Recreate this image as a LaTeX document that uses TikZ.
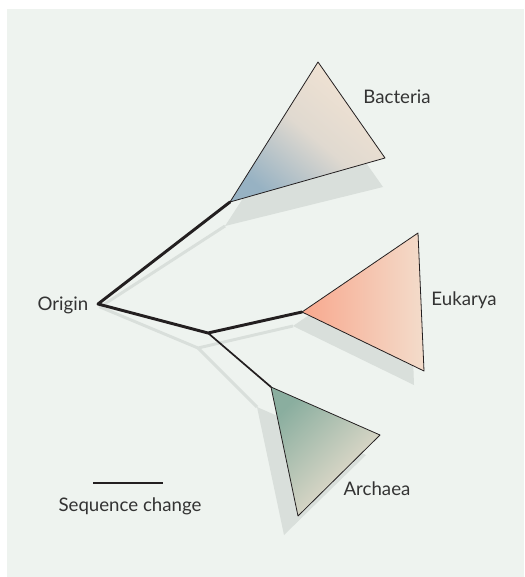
\documentclass[tikz,border=0pt]{standalone}
\usepackage{fontspec}
\setmainfont{Lato}
\definecolor{panelbg}{HTML}{EEF3EF}
\definecolor{shadowgrey}{HTML}{D9DFDB}
\definecolor{treeline}{HTML}{231F20}
\definecolor{textgrey}{HTML}{333333}
\definecolor{bacblue}{HTML}{97B2C3}
\definecolor{beige}{HTML}{F2E3D3}
\definecolor{euksalmon}{HTML}{F8A88E}
\definecolor{eukpeach}{HTML}{F3DCCB}
\definecolor{arcgreen}{HTML}{8AAE9F}

\begin{document}
\begin{tikzpicture}[x=0.75pt,y=-0.75pt,
every node/.style={font=\fontsize{14}{16}\selectfont,text=textgrey},
branch/.style={draw=treeline,line width=2.2pt,line join=round,line cap=round},
shadowline/.style={draw=shadowgrey,line width=2.2pt,line join=round},
clade/.style={draw=treeline,line width=0.6pt,line join=round},
shadowclade/.style={fill=shadowgrey}]

\useasboundingbox (0,0) rectangle (524,577);
\fill[panelbg] (7,9) rectangle (524,577);

% tree points
\coordinate (origin) at (98,304);
\coordinate (split) at (208,333);
\coordinate (bac) at (230,202);
\coordinate (euk) at (302,312);
\coordinate (arc) at (271,387);

% their shadows
\coordinate (origin') at (100,307);
\coordinate (split') at (198,348);
\coordinate (bac') at (225,226);
\coordinate (euk') at (293,326);
\coordinate (arc') at (257,407);

\draw[shadowline] (bac') -- (origin') -- (split') -- (euk');
\draw[shadowline] (split') -- (arc');
\fill[shadowclade] (bac') -- (314,89) -- (383,187) -- cycle;
\fill[shadowclade] (euk') -- (409,247) -- (414,385) -- cycle;
\fill[shadowclade] (arc') -- (366,455) -- (284,535) -- cycle;

% branches
\draw[branch] (bac) -- (origin) -- (split) -- (euk);
\draw[branch,line width=1.3pt] (split) -- (arc);

% clades
\draw[clade,top color=beige,bottom color=bacblue,middle color=beige!80!bacblue,shading angle=-40]
  (bac) -- (318,62) -- (385,158) -- cycle;
\draw[clade,left color=euksalmon,right color=eukpeach]
  (euk) -- (418,233) -- (424,371) -- cycle;
\draw[clade,top color=arcgreen,bottom color=beige,shading angle=45]
  (arc) -- (380,435) -- (298,516) -- cycle;

\node (bacteria) at (397,97) {Bacteria};
\node (eukarya) at (464,300) {Eukarya};
\node (archaea) at (377,489) {Archaea};
\node[left] (originlabel) at (93,305) {Origin};

% scale bar
\coordinate (barL) at (93,483);
\coordinate (barR) at (163,483);
\draw[branch,line cap=butt] (barL) -- (barR);
\node (scalelabel) at (130,506) {Sequence change};

\end{tikzpicture}
\end{document}
